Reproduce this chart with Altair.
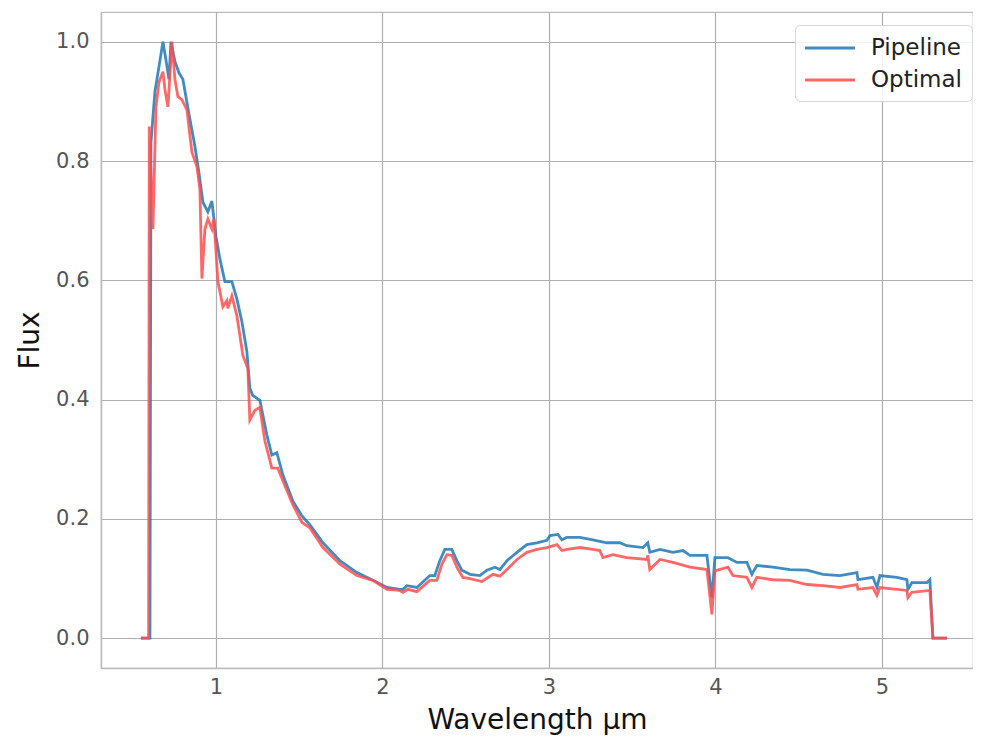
import altair as alt
import pandas as pd

# Pipeline spectrum (wavelength in µm, normalised flux)
pipe_wl = [0.550, 0.604, 0.610, 0.634, 0.658, 0.682, 0.700, 0.718, 0.730, 0.754,
           0.778, 0.802, 0.820, 0.844, 0.874, 0.898, 0.922, 0.952, 0.976, 1.000,
           1.024, 1.054, 1.096, 1.126, 1.156, 1.186, 1.204, 1.222, 1.264, 1.306,
           1.336, 1.366, 1.402, 1.462, 1.517, 1.565, 1.643, 1.745, 1.847, 1.943,
           2.027, 2.105, 2.123, 2.147, 2.207, 2.285, 2.315, 2.345, 2.375, 2.417,
           2.447, 2.477, 2.526, 2.586, 2.628, 2.676, 2.706, 2.748, 2.808, 2.868,
           2.928, 2.988, 3.006, 3.054, 3.078, 3.108, 3.186, 3.264, 3.348, 3.426,
           3.468, 3.565, 3.594, 3.606, 3.667, 3.745, 3.805, 3.847, 3.949, 3.979,
           3.997, 4.075, 4.129, 4.189, 4.219, 4.249, 4.345, 4.447, 4.550, 4.646,
           4.748, 4.850, 4.856, 4.946, 4.970, 4.988, 5.090, 5.150, 5.156, 5.180,
           5.270, 5.288, 5.306, 5.391]
pipe_flux = [0.000, 0.000, 0.831, 0.917, 0.958, 1.000, 0.970, 0.937, 1.000, 0.967,
             0.948, 0.937, 0.908, 0.870, 0.825, 0.781, 0.731, 0.715, 0.733, 0.674,
             0.636, 0.598, 0.598, 0.569, 0.531, 0.481, 0.419, 0.407, 0.399, 0.341,
             0.307, 0.311, 0.274, 0.230, 0.205, 0.190, 0.160, 0.130, 0.110, 0.097,
             0.085, 0.082, 0.082, 0.088, 0.085, 0.105, 0.105, 0.130, 0.149, 0.149,
             0.130, 0.114, 0.107, 0.105, 0.114, 0.119, 0.115, 0.130, 0.144, 0.157,
             0.160, 0.164, 0.172, 0.174, 0.165, 0.169, 0.169, 0.165, 0.160, 0.160,
             0.155, 0.152, 0.160, 0.144, 0.149, 0.144, 0.147, 0.139, 0.139, 0.068,
             0.135, 0.135, 0.127, 0.127, 0.107, 0.122, 0.119, 0.115, 0.114, 0.107,
             0.105, 0.110, 0.098, 0.102, 0.085, 0.105, 0.102, 0.098, 0.082, 0.093,
             0.093, 0.098, 0.000, 0.000]

# Optimal extraction spectrum
opt_wl = [0.550, 0.596, 0.600, 0.622, 0.640, 0.658, 0.682, 0.694, 0.712, 0.736,
          0.754, 0.772, 0.796, 0.826, 0.856, 0.886, 0.904, 0.916, 0.934, 0.952,
          0.976, 0.988, 1.012, 1.042, 1.066, 1.072, 1.096, 1.126, 1.162, 1.192,
          1.204, 1.234, 1.264, 1.294, 1.336, 1.372, 1.402, 1.462, 1.517, 1.565,
          1.643, 1.745, 1.847, 1.943, 2.027, 2.105, 2.123, 2.153, 2.207, 2.285,
          2.327, 2.357, 2.387, 2.417, 2.447, 2.483, 2.526, 2.598, 2.664, 2.706,
          2.748, 2.808, 2.868, 2.928, 2.988, 3.048, 3.078, 3.108, 3.186, 3.264,
          3.306, 3.324, 3.384, 3.468, 3.588, 3.594, 3.606, 3.667, 3.745, 3.847,
          3.949, 3.979, 3.997, 4.075, 4.105, 4.189, 4.219, 4.249, 4.345, 4.447,
          4.550, 4.646, 4.748, 4.850, 4.856, 4.946, 4.970, 4.988, 5.090, 5.150,
          5.156, 5.180, 5.288, 5.306, 5.391]
opt_flux = [0.000, 0.000, 0.858, 0.686, 0.891, 0.932, 0.950, 0.920, 0.891, 1.000,
            0.937, 0.908, 0.903, 0.886, 0.815, 0.791, 0.753, 0.603, 0.686, 0.703,
            0.686, 0.703, 0.598, 0.556, 0.566, 0.553, 0.574, 0.541, 0.474, 0.452,
            0.366, 0.382, 0.387, 0.331, 0.285, 0.285, 0.264, 0.224, 0.194, 0.185,
            0.152, 0.124, 0.105, 0.097, 0.082, 0.080, 0.077, 0.082, 0.078, 0.097,
            0.097, 0.124, 0.140, 0.139, 0.119, 0.102, 0.100, 0.095, 0.107, 0.104,
            0.115, 0.132, 0.144, 0.149, 0.152, 0.157, 0.147, 0.149, 0.152, 0.149,
            0.147, 0.135, 0.140, 0.135, 0.132, 0.139, 0.115, 0.132, 0.127, 0.119,
            0.115, 0.040, 0.113, 0.119, 0.105, 0.102, 0.085, 0.102, 0.098, 0.097,
            0.090, 0.088, 0.085, 0.090, 0.082, 0.085, 0.072, 0.085, 0.082, 0.080,
            0.068, 0.077, 0.080, 0.000, 0.000]

series_names = ["Pipeline", "Optimal"]
series_colors = ["#1f77b4", "#ff4d4d"]
x_ticks = [1, 2, 3, 4, 5]
y_ticks = [0.0, 0.2, 0.4, 0.6, 0.8, 1.0]

df = pd.concat([
    pd.DataFrame({"wl": pipe_wl, "flux": pipe_flux, "series": series_names[0]}),
    pd.DataFrame({"wl": opt_wl, "flux": opt_flux, "series": series_names[1]}),
], ignore_index=True)

color_scale = alt.Scale(domain=series_names, range=series_colors)

base = alt.Chart(df).mark_line(strokeWidth=2.8, opacity=0.85, clip=True).encode(
    x=alt.X("wl:Q",
            scale=alt.Scale(domain=[0.31, 5.547], nice=False, zero=False),
            axis=alt.Axis(values=x_ticks, format="d", title="Wavelength µm",
                          labelPadding=8, titlePadding=9)),
    y=alt.Y("flux:Q",
            scale=alt.Scale(domain=[-0.05, 1.05], nice=False, zero=False),
            axis=alt.Axis(values=y_ticks, format=".1f", title="Flux",
                          labelPadding=12, titlePadding=11)),
    color=alt.Color("series:N", scale=color_scale,
                    legend=alt.Legend(title=None, orient="none",
                                      legendX=694, legendY=13)),
)

chart = alt.layer(
    base.transform_filter(alt.datum.series == series_names[0]),
    base.transform_filter(alt.datum.series == series_names[1]),
).properties(
    width=872, height=656,
    autosize=alt.AutoSizeParams(type="none"),
    padding={"left": 93, "top": 4, "right": 0, "bottom": 67},
    background="white",
).configure_axis(
    grid=True, gridColor="#b0b0b0", gridWidth=1.2,
    domainColor="#bbbbbb", domainWidth=1.5, ticks=False,
    labelFont="DejaVu Sans", labelFontSize=21, labelColor="#555555",
    titleFont="DejaVu Sans", titleFontSize=28, titleColor="#111111",
    titleFontWeight="normal",
).configure_view(
    stroke="#bbbbbb", strokeWidth=1.2,
).configure_legend(
    labelFont="DejaVu Sans", labelFontSize=23, labelColor="#222222",
    symbolType="M-2,0H2", symbolSize=625, symbolStrokeWidth=3,
    symbolOffset=12, labelOffset=27,
    padding=9, rowPadding=6, cornerRadius=5,
    strokeColor="#d6d6d6", fillColor="rgba(255,255,255,0.85)",
)

chart.save("out.html", embed_options={"renderer": "svg", "actions": False})
